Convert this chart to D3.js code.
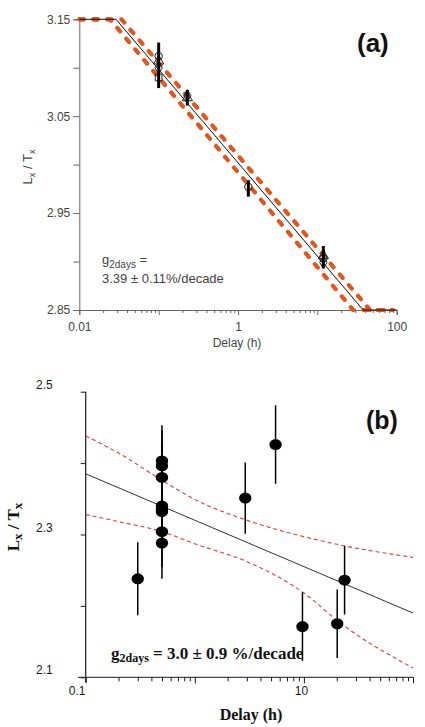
<!DOCTYPE html>
<html>
<head>
<meta charset="utf-8">
<script src="https://cdn.jsdelivr.net/npm/d3@7"></script>
<style>
  body { margin: 0; background: #fff; }
  svg { display: block; }
</style>
</head>
<body>
<svg id="chart" width="425" height="727"></svg>
<script>
//------------------------------------------------------------------------------
// panel (a) : Lx/Tx vs delay, fitted plateau + log decay

const ticksA_y = [2.85, 2.90, 2.95, 3.00, 3.05, 3.10, 3.15];
const labelsA_y = ['2.85', '', '2.95', '', '3.05', '', '3.15'];
const labelsA_x = { 0.01: '0.01', 1: '1', 100: '100' };

/** one entry per marker; several markers share a delay */
const markA_delay = [0.1, 0.1, 0.1, 0.1, 0.23, 0.23, 1.35, 11.9, 11.9, 11.9];
const markA_ratio = [3.112, 3.107, 3.100, 3.090, 3.069, 3.071, 2.977, 2.903, 2.906, 2.899];
const markA_shape = ['circle', 'triangle', 'diamond', 'square', 'triangle', 'diamond',
                     'circle', 'circle', 'triangle', 'diamond'];

const errA_delay = [0.1, 0.23, 1.35, 11.9];
const errA_lo = [3.079, 3.061, 2.967, 2.893];
const errA_hi = [3.126, 3.077, 2.984, 2.916];

const fitA_delay = [0.01, 0.029, 37.8, 100];
const fitA_ratio = [3.15, 3.15, 2.85, 2.85];
const bandLoA_delay = [0.01, 0.0244, 28.3, 90];
const bandHiA_delay = [0.01, 0.034, 46.3, 90];
const bandA_ratio = [3.15, 3.15, 2.85, 2.85];

//------------------------------------------------------------------------------
// panel (b) : single aliquots with error bars, linear fit in log(t)

const ticksB_y = [2.1, 2.2, 2.3, 2.4, 2.5];
const labelsB_y = ['2.1', '', '2.3', '', '2.5'];
const labelsB_x = { 0.1: '0.1', 10: '10' };

const delayB = [0.3, 0.5, 0.5, 0.5, 0.5, 0.5, 0.5, 0.5, 0.5, 2.9, 5.5, 9.7, 20.2, 23.6];
const ratioB = [2.238, 2.403, 2.396, 2.380, 2.340, 2.335, 2.332, 2.304, 2.288,
                2.351, 2.426, 2.171, 2.175, 2.236];
const errB = [0.051, 0.05, 0.05, 0.05, 0.05, 0.05, 0.05, 0.05, 0.05,
              0.05, 0.055, 0.048, 0.048, 0.048];

const fitB_delay = [0.1, 100];
const fitB_ratio = [2.385, 2.190];

const confB_delay = [0.1, 0.2, 0.5, 1, 3, 10, 22, 100];
const confHiB = [2.438, 2.414, 2.376, 2.349, 2.320, 2.297, 2.285, 2.268];
const confLoB = [2.328, 2.318, 2.304, 2.287, 2.262, 2.218, 2.175, 2.113];

//------------------------------------------------------------------------------

const svg = d3.select('#chart');
const zip = (xs, ys) => xs.map((x, i) => [x, ys[i]]);

/** log-axis ticks : 1..9 per decade between lo and hi */
function logTicks(lo, hi) {
  const t = [];
  for (let d = lo; d < hi * 1.0001; d *= 10)
    for (let m = 1; m < 10; m++) {
      const v = +(d * m).toPrecision(3);
      if (v <= hi * 1.0001) t.push(v);
    }
  return t;
}
const isDecade = v => Math.abs(Math.log10(v) - Math.round(Math.log10(v))) < 1e-6;

//------------------------------------------------------------------------------
// (a)

{
  const
  x = d3.scaleLog().domain([0.01, 100]).range([79.3, 396.7]),
  y = d3.scaleLinear().domain([2.85, 3.15]).range([310, 19.3]),
  g = svg.append('g').attr('class', 'panel-a'),
  axisColour = '#666', textColour = '#444',
  font = 'Liberation Sans, Arial, sans-serif';

  // y axis
  const gy = g.append('g')
    .attr('transform', `translate(${x.range()[0]},0)`)
    .call(d3.axisLeft(y).tickValues(ticksA_y).tickSize(6).tickPadding(3)
          .tickFormat((d, i) => labelsA_y[i]));
  gy.select('.domain').attr('stroke', axisColour);
  gy.selectAll('.tick line').attr('stroke', axisColour);
  gy.selectAll('text').attr('fill', textColour).style('font', `12px ${font}`);

  // x axis : minor then major
  const xt = logTicks(0.01, 100);
  const gxm = g.append('g')
    .attr('transform', `translate(0,${y.range()[0]})`)
    .call(d3.axisBottom(x).tickValues(xt.filter(v => !isDecade(v))).tickSize(3).tickFormat(''));
  gxm.select('.domain').remove();
  gxm.selectAll('.tick line').attr('stroke', axisColour);
  const gx = g.append('g')
    .attr('transform', `translate(0,${y.range()[0]})`)
    .call(d3.axisBottom(x).tickValues(xt.filter(isDecade)).tickSize(5).tickPadding(7)
          .tickFormat(d => labelsA_x[d] || ''));
  gx.select('.domain').attr('stroke', axisColour);
  gx.selectAll('.tick line').attr('stroke', axisColour);
  gx.selectAll('text').attr('fill', textColour).style('font', `12px ${font}`);

  // axis titles
  g.append('text')
    .attr('x', 237).attr('y', 347)
    .attr('text-anchor', 'middle').attr('fill', textColour)
    .style('font', `12px ${font}`)
    .text('Delay (h)');
  const yt = g.append('text')
    .attr('transform', 'translate(32,167) rotate(-90)')
    .attr('text-anchor', 'middle').attr('fill', textColour)
    .style('font', `13px ${font}`);
  yt.append('tspan').text('L');
  yt.append('tspan').attr('dy', 3).style('font-size', '9px').text('x');
  yt.append('tspan').attr('dy', -3).text(' / T');
  yt.append('tspan').attr('dy', 3).style('font-size', '9px').text('x');

  const line = d3.line().x(d => x(d[0])).y(d => y(d[1]));

  // dashed bounds
  [bandLoA_delay, bandHiA_delay].forEach(bd => {
    g.append('path')
      .attr('d', line(zip(bd, bandA_ratio)))
      .attr('fill', 'none')
      .attr('stroke', '#e0561e')
      .attr('stroke-width', 4.2)
      .attr('stroke-linecap', 'round')
      .attr('stroke-dasharray', '4.5,9.5');
  });

  // fit
  g.append('path')
    .attr('d', line(zip(fitA_delay, fitA_ratio)))
    .attr('fill', 'none').attr('stroke', '#111').attr('stroke-width', 1);

  // markers
  const symbols = {
    circle: d3.symbolCircle, square: d3.symbolSquare,
    triangle: d3.symbolTriangle, diamond: d3.symbolDiamond,
  };
  g.selectAll('path.markA')
    .data(markA_delay.map((d, i) => ({ d, r: markA_ratio[i], s: markA_shape[i] })))
    .join('path')
    .attr('class', 'markA')
    .attr('transform', p => `translate(${x(p.d)},${y(p.r)})`)
    .attr('d', p => d3.symbol(symbols[p.s], 45)())
    .attr('fill', 'none').attr('stroke', '#222').attr('stroke-width', 1);

  // error bars
  g.selectAll('line.errA')
    .data(errA_delay.map((d, i) => ({ d, lo: errA_lo[i], hi: errA_hi[i] })))
    .join('line')
    .attr('class', 'errA')
    .attr('x1', p => x(p.d)).attr('x2', p => x(p.d))
    .attr('y1', p => y(p.lo)).attr('y2', p => y(p.hi))
    .attr('stroke', '#000').attr('stroke-width', 3);

  // annotations
  g.append('text')
    .attr('x', 357).attr('y', 52)
    .style('font', 'bold 26px Liberation Sans, Arial, sans-serif')
    .attr('fill', '#111')
    .text('(a)');
  const ga = g.append('text')
    .attr('x', 102).attr('y', 264)
    .attr('fill', textColour)
    .style('font', `13px ${font}`);
  ga.append('tspan').text('g');
  ga.append('tspan').attr('dy', 4).style('font-size', '10px').text('2days');
  ga.append('tspan').attr('dy', -4).text(' =');
  g.append('text')
    .attr('x', 102).attr('y', 283)
    .attr('fill', textColour)
    .style('font', `13px ${font}`)
    .text('3.39 \u00b1 0.11%/decade');
}

//------------------------------------------------------------------------------
// (b)

{
  const
  x = d3.scaleLog().domain([0.1, 100]).range([85.7, 413]),
  y = d3.scaleLinear().domain([2.1, 2.5]).range([677.3, 391.7]),
  g = svg.append('g').attr('class', 'panel-b'),
  ink = '#1a1a1a',
  serif = 'Liberation Serif, Times New Roman, serif',
  sans = 'Liberation Sans, Arial, sans-serif';

  // y axis
  const gy = g.append('g')
    .attr('transform', `translate(${x.range()[0]},0)`)
    .call(d3.axisLeft(y).tickValues(ticksB_y).tickSize(5).tickPadding(28)
          .tickFormat((d, i) => labelsB_y[i]));
  gy.select('.domain').remove();
  gy.selectAll('.tick line').attr('stroke', ink);
  gy.selectAll('text').attr('fill', ink).attr('dy', '-0.28em').style('font', `12px ${sans}`);
  g.append('line')
    .attr('x1', x.range()[0]).attr('x2', x.range()[0])
    .attr('y1', y.range()[1]).attr('y2', y.range()[0] + 5)
    .attr('stroke', ink).attr('stroke-width', 1.2);

  // x axis
  const xt = logTicks(0.1, 100);
  const gxm = g.append('g')
    .attr('transform', `translate(0,${y.range()[0]})`)
    .call(d3.axisBottom(x).tickValues(xt.filter(v => !isDecade(v))).tickSize(4).tickFormat(''));
  gxm.select('.domain').remove();
  gxm.selectAll('.tick line').attr('stroke', ink);
  const gx = g.append('g')
    .attr('transform', `translate(0,${y.range()[0]})`)
    .call(d3.axisBottom(x).tickValues(xt.filter(isDecade)).tickSize(6).tickPadding(3)
          .tickFormat(d => labelsB_x[d] || ''));
  gx.select('.domain').remove();
  gx.selectAll('.tick line').attr('stroke', ink);
  gx.selectAll('text').attr('fill', ink).style('font', `12px ${sans}`)
    .attr('dx', d => d === 0.1 ? -9 : -3);
  g.append('line')
    .attr('x1', x.range()[0] - 8).attr('x2', x.range()[1])
    .attr('y1', y.range()[0]).attr('y2', y.range()[0])
    .attr('stroke', ink).attr('stroke-width', 1);

  // axis titles
  g.append('text')
    .attr('x', 251).attr('y', 720)
    .attr('text-anchor', 'middle').attr('fill', '#111')
    .style('font', `bold 16px ${serif}`)
    .text('Delay (h)');
  const yt = g.append('text')
    .attr('transform', 'translate(19,527) rotate(-90)')
    .attr('text-anchor', 'middle').attr('fill', '#111')
    .style('font', `bold 17px ${serif}`);
  yt.append('tspan').text('L');
  yt.append('tspan').attr('dy', 3).style('font-size', '13px').text('x');
  yt.append('tspan').attr('dy', -3).text(' / T');
  yt.append('tspan').attr('dy', 3).style('font-size', '13px').text('x');

  const line = d3.line().x(d => x(d[0])).y(d => y(d[1]));
  const curve = d3.line().x(d => x(d[0])).y(d => y(d[1])).curve(d3.curveMonotoneX);

  // confidence band
  [confHiB, confLoB].forEach(cb => {
    g.append('path')
      .attr('d', curve(zip(confB_delay, cb)))
      .attr('fill', 'none')
      .attr('stroke', '#e23a3a')
      .attr('stroke-width', 1.1)
      .attr('stroke-dasharray', '4,3');
  });

  // fit
  g.append('path')
    .attr('d', line(zip(fitB_delay, fitB_ratio)))
    .attr('fill', 'none').attr('stroke', '#333').attr('stroke-width', 1);

  const pts = delayB.map((d, i) => ({ d, r: ratioB[i], e: errB[i] }));

  // error bars
  g.selectAll('line.errB')
    .data(pts)
    .join('line')
    .attr('class', 'errB')
    .attr('x1', p => x(p.d)).attr('x2', p => x(p.d))
    .attr('y1', p => y(p.r - p.e)).attr('y2', p => y(p.r + p.e))
    .attr('stroke', '#000').attr('stroke-width', 1.5);

  // markers
  g.selectAll('ellipse.markB')
    .data(pts)
    .join('ellipse')
    .attr('class', 'markB')
    .attr('cx', p => x(p.d)).attr('cy', p => y(p.r))
    .attr('rx', 6.2).attr('ry', 5.5)
    .attr('fill', '#000');

  // annotations
  g.append('text')
    .attr('x', 366).attr('y', 429)
    .style('font', `bold 25px ${sans}`)
    .attr('fill', '#111')
    .text('(b)');
  const gb = g.append('text')
    .attr('x', 111).attr('y', 659)
    .attr('fill', '#111')
    .style('font', `bold 17px ${serif}`);
  gb.append('tspan').text('g');
  gb.append('tspan').attr('dy', 3).style('font-size', '12px').text('2days');
  gb.append('tspan').attr('dy', -3).text(' = 3.0 \u00b1 0.9 %/decade');
}
</script>
</body>
</html>
